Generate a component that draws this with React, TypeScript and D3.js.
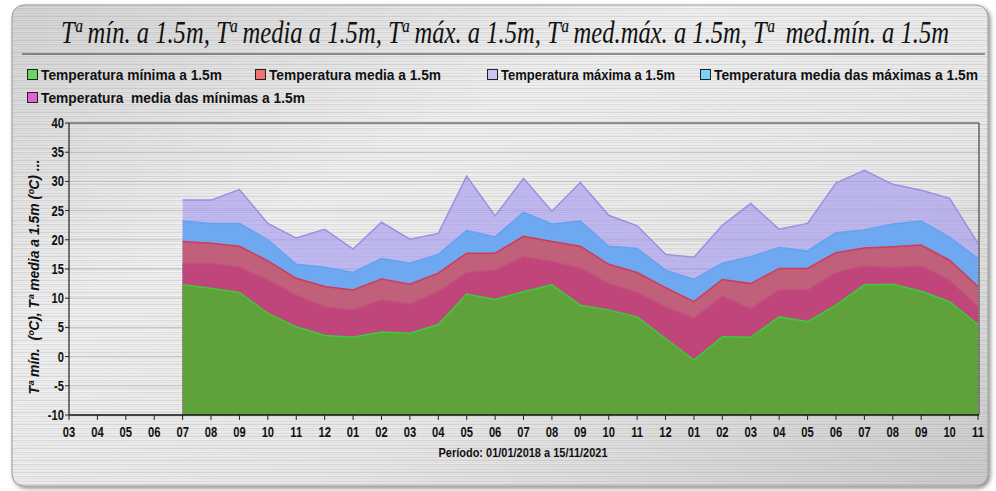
import * as d3 from "d3";

const tickLabels = [
  "03", "04", "05", "06", "07", "08", "09", "10", "11", "12",
  "01", "02", "03", "04", "05", "06", "07", "08", "09", "10", "11", "12",
  "01", "02", "03", "04", "05", "06", "07", "08", "09", "10", "11",
];
// data starts at the 5th tick (07)
const firstIndex = 4;

const tempMax = [
  26.8, 26.8, 28.6, 22.8, 20.3, 21.8, 18.4, 23.0, 20.1, 21.1, 30.9, 24.1, 30.5, 24.9, 29.8,
  24.2, 22.4, 17.5, 17.0, 22.5, 26.2, 21.8, 22.8, 29.7, 31.9, 29.5, 28.5, 27.1, 19.4,
];
const tempMedMax = [
  23.2, 22.8, 22.8, 20.0, 15.8, 15.3, 14.4, 16.8, 16.0, 17.5, 21.6, 20.5, 24.7, 22.7, 23.2,
  18.9, 18.5, 14.8, 13.2, 16.0, 17.1, 18.7, 18.1, 21.2, 21.7, 22.7, 23.2, 20.4, 16.8,
];
const tempMedia = [
  19.7, 19.4, 18.9, 16.4, 13.4, 12.0, 11.4, 13.3, 12.4, 14.3, 17.7, 17.7, 20.6, 19.7, 18.9,
  15.8, 14.4, 11.8, 9.4, 13.2, 12.5, 15.1, 15.1, 17.8, 18.6, 18.8, 19.1, 16.5, 12.0,
];
const tempMedMin = [
  15.9, 16.0, 15.3, 13.1, 10.5, 8.5, 8.0, 9.7, 9.0, 11.1, 14.4, 14.8, 17.1, 16.3, 15.1,
  12.5, 11.0, 8.5, 6.6, 10.3, 8.2, 11.4, 11.4, 14.4, 15.5, 15.2, 15.5, 13.1, 8.5,
];
const tempMin = [
  12.3, 11.7, 11.0, 7.4, 5.1, 3.6, 3.3, 4.2, 4.0, 5.5, 10.7, 9.8, 11.1, 12.3, 8.8,
  8.0, 6.8, 3.1, -0.6, 3.4, 3.3, 6.8, 6.0, 8.8, 12.3, 12.4, 11.2, 9.4, 5.5,
];

const yTicks = [-10, -5, 0, 5, 10, 15, 20, 25, 30, 35, 40];

const legendItems = [
  { label: "Temperatura mínima a 1.5m", color: "#62d862" },
  { label: "Temperatura media a 1.5m", color: "#f07272" },
  { label: "Temperatura máxima a 1.5m", color: "#c8c6f6" },
  { label: "Temperatura media das máximas a 1.5m", color: "#7cd2f6" },
  { label: "Temperatura\u00a0 media das mínimas a 1.5m", color: "#e064d2" },
];

const layers = [
  { values: tempMax, fill: "#a196f0", opacity: 0.6, stroke: "#9a8fe2" },
  { values: tempMedMax, fill: "#6ea8f0", opacity: 1, stroke: "#63a2f2" },
  { values: tempMedia, fill: "#c0607a", opacity: 1, stroke: "#d23a55" },
  { values: tempMedMin, fill: "#c0457a", opacity: 1, stroke: "#c24f7e" },
  { values: tempMin, fill: "#5fa23b", opacity: 1, stroke: "#3ccc3c" },
];

const W = 996;
const H = 491;
const plot = { left: 69, right: 979, top: 123, bottom: 415 };

const sans = "'Liberation Sans', Arial, sans-serif";

// legend box position and text width
const legendPos = [
  { x: 27, y: 69, w: 181 },
  { x: 255, y: 69, w: 172 },
  { x: 487, y: 69, w: 174 },
  { x: 700, y: 69, w: 264 },
  { x: 27, y: 92, w: 264 },
];

export default function App() {
  const x = d3.scaleLinear().domain([0, tickLabels.length - 1]).range([plot.left, 978]);
  const y = d3.scaleLinear().domain([-10, 40]).range([plot.bottom, plot.top]);

  const area = d3
    .area<number>()
    .x((_, i) => x(i + firstIndex))
    .y0(y(-10))
    .y1((d) => y(d));
  const line = d3
    .line<number>()
    .x((_, i) => x(i + firstIndex))
    .y((d) => y(d));

  // brushed-metal streaks
  const streaks = d3.range(0, 24).map((i) => ({
    y: i,
    o: [0.05, 0.2, 0.02, 0.1, 0.26, 0.04, 0.12, 0.0, 0.22, 0.06, 0.16, 0.03][i % 12],
  }));

  return (
    <svg
      width={W}
      height={H}
      style={{ position: "absolute", left: 0, top: 0, background: "#fff" }}
    >
      <defs>
        <linearGradient id="metal" x1="0" y1="0" x2="1" y2="1">
          <stop offset="0" stopColor="#d6d6d6" />
          <stop offset="0.35" stopColor="#f4f4f4" />
          <stop offset="0.65" stopColor="#ececec" />
          <stop offset="1" stopColor="#cdcdcd" />
        </linearGradient>
        <pattern id="brush" width="400" height="24" patternUnits="userSpaceOnUse">
          {streaks.map((s) => (
            <rect key={s.y} x={0} y={s.y} width={400} height={1} fill="#888" opacity={s.o} />
          ))}
        </pattern>
        <filter id="shadow" x="-5%" y="-5%" width="110%" height="110%">
          <feDropShadow dx="2" dy="2" stdDeviation="2" floodColor="#000" floodOpacity="0.45" />
        </filter>
      </defs>

      <rect x={12} y={5} width={976} height={481} rx={12} fill="url(#metal)" stroke="#9a9a9a" filter="url(#shadow)" />
      <rect x={12} y={5} width={976} height={481} rx={12} fill="url(#brush)" />

      <text
        x={505}
        y={43}
        textAnchor="middle"
        fontFamily="'Liberation Serif', 'Times New Roman', serif"
        fontStyle="italic"
        fontSize={31}
        textLength={888}
        lengthAdjust="spacingAndGlyphs"
        fill="#111"
      >
        {"Tª mín. a 1.5m, Tª media a 1.5m, Tª máx. a 1.5m, Tª med.máx. a 1.5m, Tª\u00a0 med.mín. a 1.5m"}
      </text>
      <line x1={22} x2={985} y1={54} y2={54} stroke="#333" strokeWidth={1.2} />

      {legendItems.map((item, i) => (
        <g key={item.label} transform={`translate(${legendPos[i].x},${legendPos[i].y})`}>
          <rect x={0.5} y={0.5} width={10} height={10} fill={item.color} stroke="#222" strokeWidth={1} />
          <text
            x={14}
            y={11}
            fontFamily={sans}
            fontWeight="bold"
            fontSize={15}
            textLength={legendPos[i].w}
            lengthAdjust="spacingAndGlyphs"
            fill="#111"
          >
            {item.label}
          </text>
        </g>
      ))}

      {/* gridlines */}
      {yTicks.map((t) => (
        <line key={t} x1={plot.left} x2={plot.right} y1={y(t)} y2={y(t)} stroke="#a8a8a8" strokeWidth={1} opacity={0.6} />
      ))}

      {layers.map((l, i) => (
        <g key={i}>
          <path d={area(l.values) ?? ""} fill={l.fill} fillOpacity={l.opacity} />
          <path d={line(l.values) ?? ""} fill="none" stroke={l.stroke} strokeWidth={1.5} />
        </g>
      ))}

      {/* frame */}
      <line x1={plot.left} x2={plot.right} y1={plot.top} y2={plot.top} stroke="#444" strokeWidth={1.2} />
      <line x1={plot.right} x2={plot.right} y1={plot.top} y2={plot.bottom} stroke="#444" strokeWidth={1.2} />
      <line x1={plot.left} x2={plot.left} y1={plot.top} y2={plot.bottom} stroke="#222" strokeWidth={1.2} />
      <line x1={plot.left} x2={plot.right} y1={plot.bottom} y2={plot.bottom} stroke="#111" strokeWidth={1.5} />

      {yTicks.map((t) => (
        <g key={t} transform={`translate(0,${y(t)})`}>
          <line x1={plot.left - 4} x2={plot.left} stroke="#222" />
          <text
            transform={`translate(${plot.left - 5},0) scale(0.8,1)`}
            dy="0.36em"
            textAnchor="end"
            fontFamily={sans}
            fontWeight="bold"
            fontSize={14}
            fill="#111"
          >
            {t}
          </text>
        </g>
      ))}

      {tickLabels.map((lab, i) => (
        <g key={i} transform={`translate(${x(i)},${plot.bottom})`}>
          <line y1={0} y2={5} stroke="#222" />
          <text
            transform="translate(0,22) scale(0.8,1)"
            textAnchor="middle"
            fontFamily={sans}
            fontWeight="bold"
            fontSize={14}
            fill="#111"
          >
            {lab}
          </text>
        </g>
      ))}

      <text
        x={523}
        y={457}
        textAnchor="middle"
        fontFamily={sans}
        fontWeight="bold"
        fontSize={13.5}
        textLength={169}
        lengthAdjust="spacingAndGlyphs"
        fill="#111"
      >
        Período: 01/01/2018 a 15/11/2021
      </text>

      <text
        transform="translate(39,277) rotate(-90)"
        textAnchor="middle"
        fontFamily={sans}
        fontWeight="bold"
        fontStyle="italic"
        fontSize={14}
        textLength={235}
        lengthAdjust="spacingAndGlyphs"
        fill="#111"
      >
        {"Tª mín.\u00a0 (ºC), Tª media a 1.5m (ºC) ..."}
      </text>
    </svg>
  );
}
